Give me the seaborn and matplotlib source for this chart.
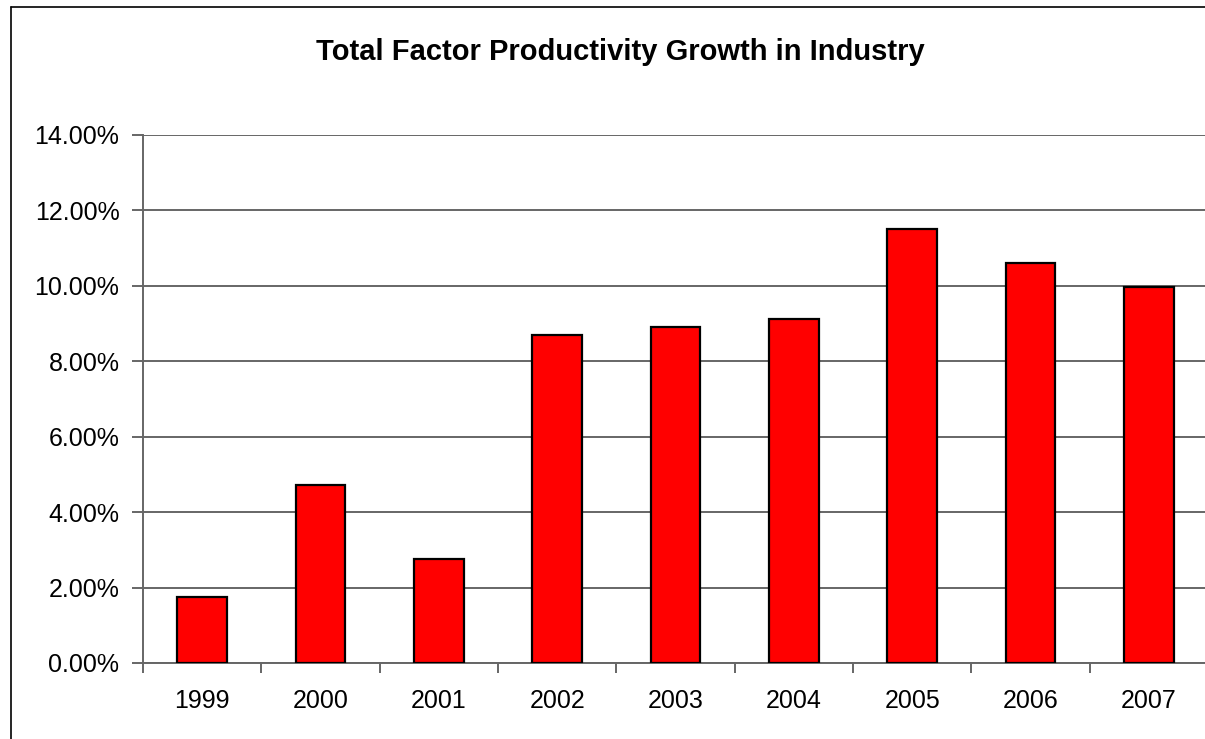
import numpy as np
import pandas as pd
import matplotlib
matplotlib.use("Agg")
import matplotlib.pyplot as plt
import seaborn as sns
from matplotlib.ticker import PercentFormatter, FixedLocator
from matplotlib.lines import Line2D

years = ["1999", "2000", "2001", "2002", "2003", "2004", "2005", "2006", "2007"]
tfp_growth = [0.0175, 0.0472, 0.0277, 0.0869, 0.0892, 0.0913, 0.1152, 0.1061, 0.0998]
title = "Total Factor Productivity Growth in Industry"
y_ticks = [0.0, 0.02, 0.04, 0.06, 0.08, 0.10, 0.12, 0.14]

df = pd.DataFrame({"Year": years, "TFP": tfp_growth})

sns.set_theme(style="white")
plt.rcParams["font.family"] = ["Liberation Sans", "DejaVu Sans"]

W, H = 1205, 739
fig = plt.figure(figsize=(W / 100, H / 100), dpi=100)
fig.patch.set_facecolor("white")

# outer chart border: only left and top edges are visible in the canvas
bx, by = 11 / W, 1 - 7 / H
fig.lines.append(Line2D([bx, bx], [0, by], transform=fig.transFigure,
                        color="black", linewidth=1.2))
fig.lines.append(Line2D([bx, 1.0], [by, by], transform=fig.transFigure,
                        color="black", linewidth=1.2))

ax = fig.add_axes([143 / W, (H - 663) / H, 1065 / W, 528 / H])
ax.set_facecolor("none")

sns.barplot(data=df, x="Year", y="TFP", color="#FF0000", saturation=1,
            edgecolor="black", linewidth=1.6, width=0.42, ax=ax, zorder=3)

ax.set_xlim(-0.5, len(years) - 0.5)
ax.set_ylim(0, 0.14)
ax.yaxis.set_major_locator(FixedLocator(y_ticks))
ax.yaxis.set_major_formatter(PercentFormatter(xmax=1.0, decimals=2))
ax.grid(axis="y", color="#666666", linewidth=1.4, zorder=0)
ax.set_axisbelow(True)

ax.set_xlabel("")
ax.set_ylabel("")

for s in ["top", "right"]:
    ax.spines[s].set_visible(False)
for s in ["left", "bottom"]:
    ax.spines[s].set_color("#666666")
    ax.spines[s].set_linewidth(1.4)

ax.tick_params(axis="y", which="major", direction="out", length=8, width=1.4,
               color="#666666", pad=9, labelsize=18, labelcolor="black", left=True)
ax.tick_params(axis="x", which="major", length=0, pad=19, labelsize=18,
               labelcolor="black", bottom=True)
ax.set_xticks(np.arange(-0.5, len(years), 1.0), minor=True)
ax.tick_params(axis="x", which="minor", direction="out", length=7, width=1.4,
               color="#666666", bottom=True)

fig.text(620 / W, 1 - 52 / H, title, ha="center", va="center",
         fontsize=21, fontweight="bold", color="black")

fig.savefig("out.png", dpi=100, facecolor="white")
